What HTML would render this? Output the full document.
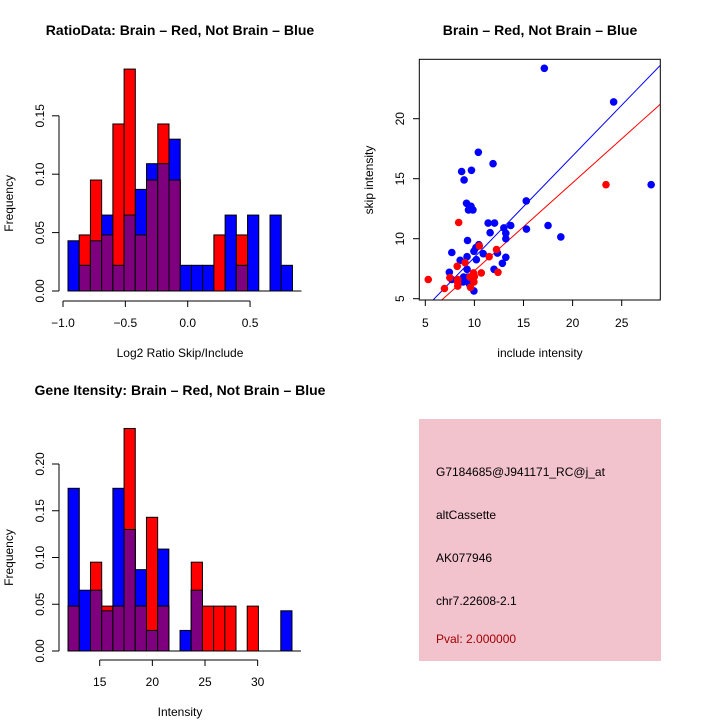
<!DOCTYPE html>
<html><head><meta charset="utf-8"><style>
body{margin:0;background:#fff}
svg{display:block;font-family:"Liberation Sans",sans-serif}
</style></head><body>
<svg id="c" width="720" height="720"></svg>
<script>
const ratioBinStart=-0.96, ratioBinWidth=0.09;
const ratioBlue=[0.043,0.022,0.043,0.065,0.022,0.065,0.087,0.109,0.109,0.13,0.022,0.022,0.022,0,0.065,0.022,0.065,0,0.065,0.022];
const ratioRed=[0,0.048,0.095,0.048,0.143,0.19,0.048,0.095,0.143,0.095,0,0,0,0.048,0,0.048,0,0,0,0];
const ratioXTicks=[-1.0,-0.5,0.0,0.5];
const ratioYTicks=[0,0.05,0.10,0.15];
const intBinStart=12, intBinWidth=1.063;
const intBlue=[0.174,0.065,0.065,0.043,0.174,0.13,0.087,0.022,0.109,0,0.022,0.065,0,0,0,0,0,0,0,0.043];
const intRed=[0.048,0,0.095,0.048,0.048,0.238,0.048,0.143,0.048,0,0,0.095,0.048,0.048,0.048,0,0.048,0,0,0];
const intXTicks=[15,20,25,30];
const intYTicks=[0,0.05,0.10,0.15,0.20];
const blueX=[17.12,24.18,28.0,10.4,11.9,8.7,9.7,8.95,9.2,9.65,9.4,9.85,15.28,11.4,12.05,11.6,13.0,13.7,13.2,13.2,15.3,17.5,18.8,9.3,10.45,10.15,9.95,10.9,12.35,13.2,9.25,10.2,8.55,7.7,12.85,12.0,9.25,7.45,8.9,9.35,7.7,8.85,9.5,9.5,9.95];
const blueY=[24.2,21.4,14.5,17.2,16.25,15.6,15.7,14.9,12.95,12.7,12.4,12.4,13.15,11.3,11.3,10.5,10.9,11.1,10.45,10.0,10.8,11.1,10.15,9.85,9.5,9.25,8.95,8.75,8.8,8.45,8.5,8.25,8.2,8.85,7.95,7.45,7.45,7.2,6.8,6.8,6.6,6.4,6.45,6.2,5.65];
const redX=[23.4,8.4,12.25,11.5,10.5,9.05,8.25,9.9,10.7,10.0,9.95,12.4,5.3,6.95,7.5,8.3,8.3,8.3,9.6,9.55];
const redY=[14.5,11.35,9.1,8.5,9.4,8.0,7.7,7.15,7.15,6.85,6.4,7.2,6.6,5.85,6.75,6.6,6.35,6.05,5.95,6.8];
const blueSlope=0.845, redSlope=0.733;
const scXTicks=[5,10,15,20,25], scYTicks=[5,10,15,20];

const svg=document.getElementById('c');
const NS='http://www.w3.org/2000/svg';
function el(tag,attrs,parent){const e=document.createElementNS(NS,tag);for(const k in attrs)e.setAttribute(k,attrs[k]);(parent||svg).appendChild(e);return e;}
function txt(s,x,y,opt,parent){const t=el('text',Object.assign({x:x,y:y,'font-size':12,'text-anchor':'middle',fill:'#000'},opt||{}),parent);t.textContent=s;return t;}

function hist(name,title,titleY,binStart,binW,blue,red,xT,yT,xLab,xs,ys,axisY,xTickFmt,yTickFmt){
  const g=el('g',{});
  
  
  const tt=txt(title,180,titleY,{'font-size':14,'font-weight':'bold'},g);
  
  
  for(let i=0;i<blue.length;i++){
    const x0=xs(binStart+i*binW), x1=xs(binStart+(i+1)*binW);
    const draws=[];
    if(blue[i]>0)draws.push(['#0000ff',blue[i],'bar-blue']);
    if(red[i]>0)draws.push(['#ff0000',red[i],'bar-red']);
    if(blue[i]>0&&red[i]>0)draws.push(['#7f007f',Math.min(blue[i],red[i]),'bar-overlap']);
    draws.forEach(d=>{
      const r=el('rect',{x:x0,y:ys(d[1]),width:x1-x0,height:ys(0)-ys(d[1]),fill:d[0],stroke:'#000','stroke-width':1},g);
      
      
    });
  }
  el('line',{x1:xs(binStart),x2:xs(binStart+blue.length*binW)+9,y1:ys(0),y2:ys(0),stroke:'#000'},g);
  // y axis
  el('line',{x1:59,x2:59,y1:ys(yT[0]),y2:ys(yT[yT.length-1]),stroke:'#000'},g);
  yT.forEach(v=>{el('line',{x1:52,x2:59,y1:ys(v),y2:ys(v),stroke:'#000'},g);
    txt(yTickFmt(v),0,0,{transform:`translate(44,${ys(v)}) rotate(-90)`,'font-size':12},g);});
  el('line',{x1:xs(xT[0]),x2:xs(xT[xT.length-1]),y1:axisY,y2:axisY,stroke:'#000'},g);
  xT.forEach(v=>{el('line',{x1:xs(v),x2:xs(v),y1:axisY,y2:axisY+6,stroke:'#000'},g);
    txt(xTickFmt(v),xs(v),axisY+26,{},g);});
  txt(xLab,180,axisY+56,{},g);
  txt('Frequency',0,0,{transform:`translate(13,${(ys(0)+ys(yT[yT.length-1]))/2}) rotate(-90)`},g);
}
// top-left
hist('ratio-histogram','RatioData: Brain \u2013 Red, Not Brain \u2013 Blue',35,ratioBinStart,ratioBinWidth,ratioBlue,ratioRed,ratioXTicks,ratioYTicks,'Log2 Ratio Skip/Include',
  v=>63+(v+1)*124.7, v=>291-v*1168, 301, v=>v.toFixed(1).replace('-','\u2212'), v=>v.toFixed(2));
// bottom-left
hist('intensity-histogram','Gene Itensity: Brain \u2013 Red, Not Brain \u2013 Blue',395,intBinStart,intBinWidth,intBlue,intRed,intXTicks,intYTicks,'Intensity',
  v=>99.7+(v-15)*10.53, v=>651-v*935, 660, v=>String(v), v=>v.toFixed(2));

// scatter
const sg=el('g',{});


const sx=v=>425.3+(v-5)*9.82, sy=v=>298.7-(v-5)*12;
const st=txt('Brain \u2013 Red, Not Brain \u2013 Blue',540,35,{'font-size':14,'font-weight':'bold'},sg);


const cp=el('clipPath',{id:'cl'},sg);el('rect',{x:419.3,y:59.3,width:241,height:240.7},cp);
function fitLine(slope,color,name){
  const x0=4.39,x1=28.93;
  const l=el('line',{x1:sx(x0),y1:sy(slope*x0),x2:sx(x1),y2:sy(slope*x1),stroke:color,'stroke-width':1,'clip-path':'url(#cl)'},sg);
  
  
}
fitLine(blueSlope,'#0000ff','blue-fit-line');
fitLine(redSlope,'#ff0000','red-fit-line');
blueX.forEach((x,i)=>{const c=el('circle',{cx:sx(x),cy:sy(blueY[i]),r:3.8,fill:'#0000ff'},sg);
  
  });
redX.forEach((x,i)=>{const c=el('circle',{cx:sx(x),cy:sy(redY[i]),r:3.8,fill:'#ff0000'},sg);
  
  });
el('rect',{x:419.3,y:59.3,width:241,height:240.7,fill:'none',stroke:'#000'},sg);
scXTicks.forEach(v=>{el('line',{x1:sx(v),x2:sx(v),y1:300,y2:306,stroke:'#000'},sg);txt(String(v),sx(v),327,{},sg);});
scYTicks.forEach(v=>{el('line',{x1:413,x2:419.3,y1:sy(v),y2:sy(v),stroke:'#000'},sg);
  txt(String(v),0,0,{transform:`translate(404,${sy(v)}) rotate(-90)`},sg);});
txt('include intensity',540,357,{},sg);
txt('skip intensity',0,0,{transform:'translate(373,180) rotate(-90)'},sg);

// info box
const ib=el('g',{});


el('rect',{x:419,y:419,width:242,height:242,fill:'#f2c2cd'},ib);
[['G7184685@J941171_RC@j_at',476,'#000'],['altCassette',519,'#000'],['AK077946',562,'#000'],['chr7.22608-2.1',605,'#000'],['Pval: 2.000000',643,'#a00000']].forEach(r=>{
  txt(r[0],436,r[1],{'text-anchor':'start',fill:r[2]},ib);
});
</script>
</body></html>
